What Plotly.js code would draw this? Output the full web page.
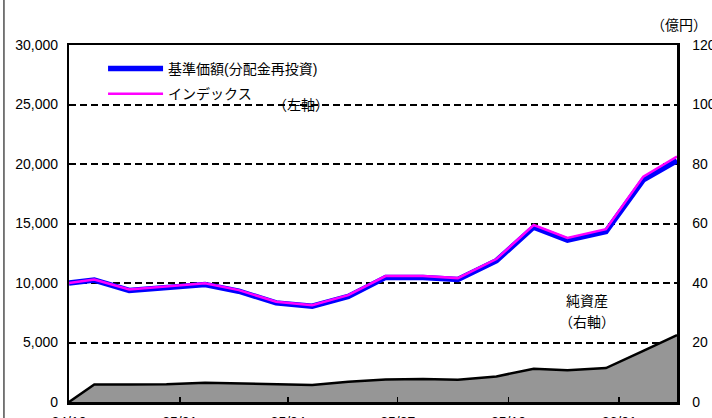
<!DOCTYPE html>
<html>
<head>
<meta charset="utf-8">
<script src="https://cdn.plot.ly/plotly-3.0.1.min.js"></script>
<style>
  html, body { margin: 0; padding: 0; background: #fff; }
  #chart { width: 712px; height: 418px; }
</style>
</head>
<body>
<div id="chart"></div>
<script>
// ---- data ----
const dates = ['2024-10-10','2024-10-31','2024-11-29','2024-12-30','2025-01-31','2025-02-28','2025-03-31','2025-04-30','2025-05-30','2025-06-30','2025-07-31','2025-08-29','2025-09-30','2025-10-31','2025-11-28','2025-12-30','2026-01-30','2026-02-27'];
const navValues   = [10000, 10250, 9380, 9660, 9880, 9310, 8330, 8050, 8880, 10470, 10470, 10300, 11880, 14700, 13600, 14320, 18660, 20290];
const indexValues = [10000, 10300, 9460, 9740, 9970, 9400, 8420, 8140, 8980, 10580, 10580, 10410, 12010, 14870, 13780, 14520, 18940, 20620];
const netAssets   = [0, 5.9, 5.9, 6.0, 6.5, 6.2, 5.8, 5.7, 6.8, 7.6, 7.7, 7.5, 8.6, 11.2, 10.7, 11.4, 17.2, 22.5];
const tickDates  = ['2024-10-10','2025-01-10','2025-04-10','2025-07-10','2025-10-10','2026-01-10'];
const tickLabels = ['24/10','25/01','25/04','25/07','25/10','26/01'];
const navName = '基準価額(分配金再投資)';
const indexName = 'インデックス';

const FONT = 'Liberation Sans, Arial, Noto Sans CJK JP, sans-serif';
const JFONT = 'Noto Sans CJK JP, sans-serif';

const traces = [
  {
    x: dates, y: netAssets, yaxis: 'y', type: 'scatter', mode: 'lines',
    fill: 'tozeroy', fillcolor: '#969696',
    line: { color: '#000000', width: 2.5 },
    showlegend: false, name: '純資産', hoverinfo: 'skip'
  },
  {
    x: dates, y: navValues, yaxis: 'y2', type: 'scatter', mode: 'lines',
    line: { color: '#0000FF', width: 5.5 }, name: navName, legendgroup: 'a'
  },
  {
    x: dates, y: indexValues, yaxis: 'y2', type: 'scatter', mode: 'lines',
    line: { color: '#FF00FF', width: 2.5 }, name: indexName, legendgroup: 'b'
  }
];

const layout = {
  width: 712, height: 418,
  margin: { l: 69, r: 35, t: 45, b: 16, autoexpand: false },
  paper_bgcolor: '#ffffff', plot_bgcolor: '#ffffff',
  font: { family: FONT, size: 14, color: '#000' },
  showlegend: true,
  legend: {
    xref: 'paper', yref: 'paper',
    x: 0.056, y: 0.9776, xanchor: 'left', yanchor: 'top',
    bgcolor: 'rgba(0,0,0,0)', borderwidth: 0,
    font: { family: FONT, size: 14, color: '#000' },
    itemwidth: 55, tracegroupgap: 4, traceorder: 'grouped'
  },
  xaxis: {
    type: 'date',
    range: ['2024-10-10', '2026-02-27'],
    tickmode: 'array', tickvals: tickDates, ticktext: tickLabels,
    ticks: 'inside', ticklen: 5, tickwidth: 1.5, tickcolor: '#000',
    showline: true, mirror: true, linecolor: '#000', linewidth: 2.5,
    showgrid: false, zeroline: false,
    tickfont: { family: FONT, size: 14, color: '#000' },
    ticklabelstandoff: 6
  },
  yaxis: {
    side: 'right', range: [0, 120], dtick: 20, tick0: 0,
    showgrid: false, zeroline: false,
    showline: true, mirror: true, linecolor: '#000', linewidth: 2.5,
    ticks: '', tickfont: { family: FONT, size: 14, color: '#000' },
    ticklabelstandoff: 10
  },
  yaxis2: {
    overlaying: 'y', side: 'left', range: [0, 30000], dtick: 5000, tick0: 0,
    tickformat: ',d',
    showgrid: true, gridcolor: '#000', gridwidth: 2, griddash: '7px,4px',
    zeroline: false, showline: false, ticks: '',
    tickfont: { family: FONT, size: 14, color: '#000' },
    ticklabelstandoff: 10
  },
  annotations: [
    { text: '（左軸）', xref: 'paper', yref: 'paper', x: 0.3816, y: 0.836, showarrow: false, xanchor: 'center', yanchor: 'middle', font: { family: JFONT, size: 14 } },
    { text: '純資産', xref: 'paper', yref: 'paper', x: 0.852, y: 0.2857, showarrow: false, xanchor: 'center', yanchor: 'middle', font: { family: JFONT, size: 14 } },
    { text: '（右軸）', xref: 'paper', yref: 'paper', x: 0.852, y: 0.2269, showarrow: false, xanchor: 'center', yanchor: 'middle', font: { family: JFONT, size: 14 } },
    { text: '（億円）', xref: 'paper', yref: 'paper', x: 1.003, y: 1.0588, showarrow: false, xanchor: 'center', yanchor: 'middle', font: { family: JFONT, size: 14 } }
  ],
  shapes: [
    { type: 'line', xref: 'paper', yref: 'paper', x0: -0.107, x1: -0.107, y0: -0.1, y1: 1.2, line: { color: '#333', width: 1.3 } }
  ]
};

Plotly.newPlot('chart', traces, layout, { displayModeBar: false, staticPlot: true });
</script>
</body>
</html>
